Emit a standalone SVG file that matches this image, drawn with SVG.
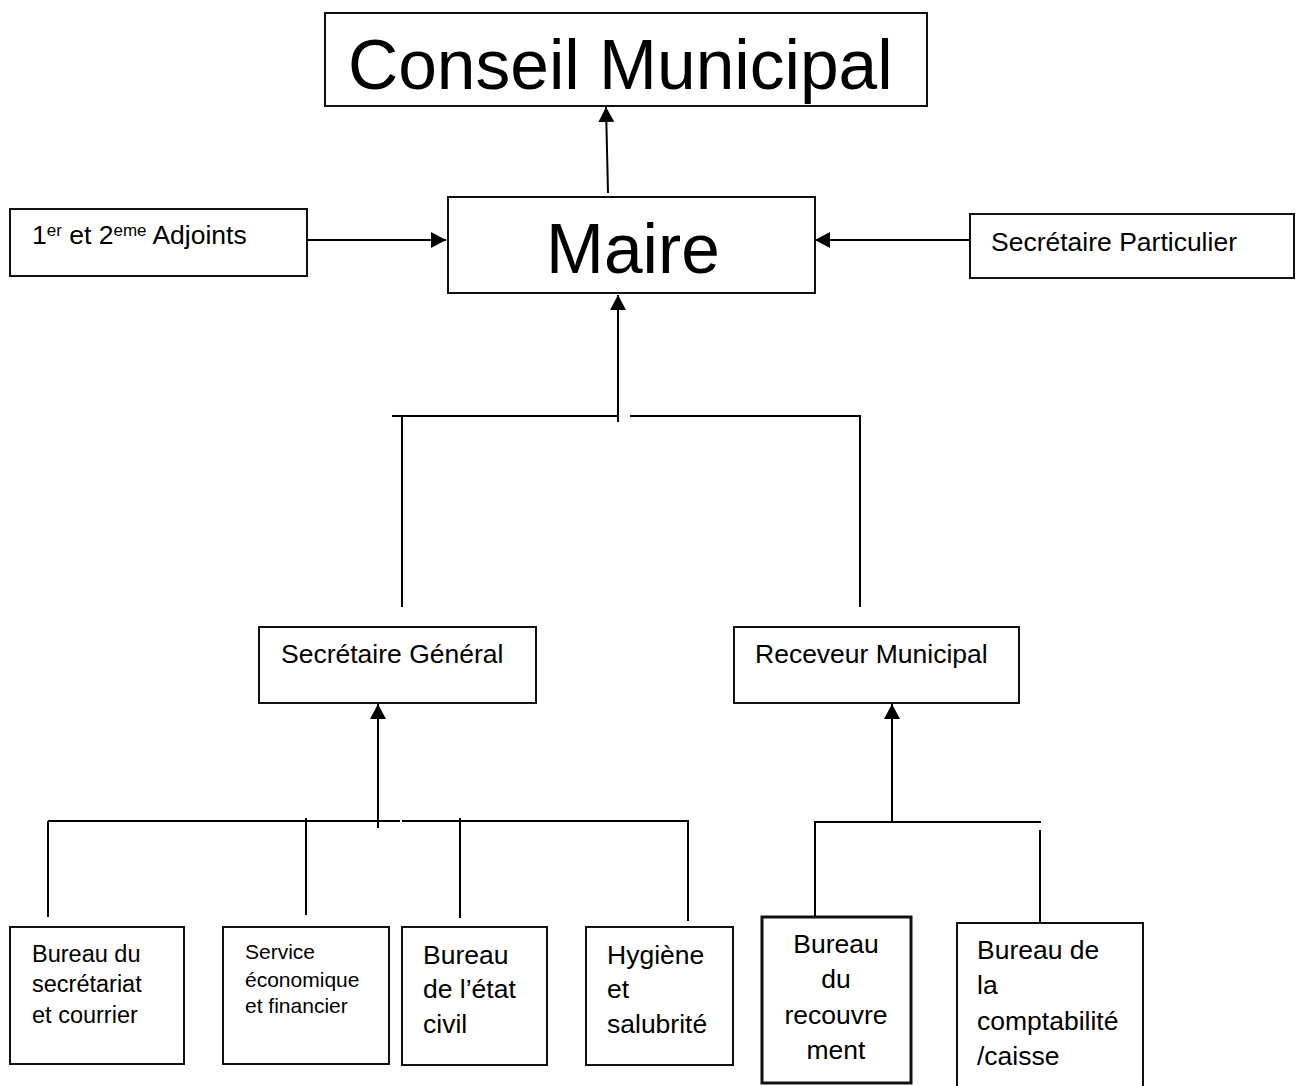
<svg xmlns="http://www.w3.org/2000/svg" width="1301" height="1086" viewBox="0 0 1301 1086">
<style>
.box{fill:#fff;stroke:#111;stroke-width:2}
.thick{stroke-width:3}
.ln{fill:none;stroke:#000;stroke-width:2}
text{font-family:"Liberation Sans",Arial,sans-serif;fill:#000}
.t26{font-size:26.5px}
.t23{font-size:23.5px}
.t21{font-size:21px}
.big{font-size:69.5px}
</style>
<defs>
<marker id="ah" viewBox="0 0 15 16" refX="15" refY="8" markerWidth="15" markerHeight="16" markerUnits="userSpaceOnUse" orient="auto">
<path d="M0,0 L15,8 L0,16 Z" fill="#000"/>
</marker>
</defs>
<rect width="1301" height="1086" fill="#fff"/>

<g id="connectors">
<line class="ln" x1="608" y1="193" x2="606" y2="107" marker-end="url(#ah)"/>
<line class="ln" x1="307" y1="240" x2="446" y2="240" marker-end="url(#ah)"/>
<line class="ln" x1="970" y1="240" x2="815" y2="240" marker-end="url(#ah)"/>
<line class="ln" x1="618" y1="422" x2="618" y2="295" marker-end="url(#ah)"/>
<line class="ln" x1="392" y1="416" x2="618" y2="416"/>
<polyline class="ln" points="630,416 860,416 860,607"/>
<line class="ln" x1="402" y1="416" x2="402" y2="607"/>
<line class="ln" x1="378" y1="828" x2="378" y2="704" marker-end="url(#ah)"/>
<line class="ln" x1="48" y1="821" x2="400" y2="821"/>
<polyline class="ln" points="402,821 688,821 688,921"/>
<line class="ln" x1="48" y1="821" x2="48" y2="917"/>
<line class="ln" x1="306" y1="818" x2="306" y2="915"/>
<line class="ln" x1="460" y1="818" x2="460" y2="918"/>
<line class="ln" x1="892" y1="822" x2="892" y2="704" marker-end="url(#ah)"/>
<polyline class="ln" points="815,917 815,822 1041,822"/>
<line class="ln" x1="1040" y1="830" x2="1040" y2="923"/>
</g>

<g id="conseil">
<rect class="box" x="325" y="13" width="602" height="93"/>
<text class="big" x="348" y="89">Conseil Municipal</text>
</g>
<g id="maire">
<rect class="box" x="448" y="197" width="367" height="96"/>
<text class="big" x="546" y="273">Maire</text>
</g>
<g id="adjoints">
<rect class="box" x="10" y="209" width="297" height="67"/>
<text class="t26" x="32" y="244">1<tspan font-size="17" dy="-8">er</tspan><tspan dy="8"> et 2</tspan><tspan font-size="17" dy="-8">eme</tspan><tspan dy="8"> Adjoints</tspan></text>
</g>
<g id="particulier">
<rect class="box" x="970" y="214" width="324" height="64"/>
<text class="t26" x="991" y="251">Secrétaire Particulier</text>
</g>
<g id="sg">
<rect class="box" x="259" y="627" width="277" height="76"/>
<text class="t26" x="281" y="663">Secrétaire Général</text>
</g>
<g id="rm">
<rect class="box" x="734" y="627" width="285" height="76"/>
<text class="t26" x="755" y="663">Receveur Municipal</text>
</g>
<g id="secretariat">
<rect class="box" x="10" y="927" width="174" height="137"/>
<text class="t23" x="32"><tspan x="32" y="962">Bureau du</tspan><tspan x="32" y="992">secrétariat</tspan><tspan x="32" y="1023">et courrier</tspan></text>
</g>
<g id="economique">
<rect class="box" x="223" y="927" width="166" height="137"/>
<text class="t21" x="245"><tspan x="245" y="959">Service</tspan><tspan x="245" y="987">économique</tspan><tspan x="245" y="1013">et financier</tspan></text>
</g>
<g id="etatcivil">
<rect class="box" x="402" y="927" width="145" height="138"/>
<text class="t26" x="423"><tspan x="423" y="964">Bureau</tspan><tspan x="423" y="998">de l’état</tspan><tspan x="423" y="1033">civil</tspan></text>
</g>
<g id="hygiene">
<rect class="box" x="586" y="927" width="147" height="138"/>
<text class="t26" x="607"><tspan x="607" y="964">Hygiène</tspan><tspan x="607" y="998">et</tspan><tspan x="607" y="1033">salubrité</tspan></text>
</g>
<g id="recouvrement">
<rect class="box thick" x="762" y="917" width="149" height="166"/>
<text class="t26" text-anchor="middle"><tspan x="836" y="953">Bureau</tspan><tspan x="836" y="988">du</tspan><tspan x="836" y="1024">recouvre</tspan><tspan x="836" y="1059">ment</tspan></text>
</g>
<g id="comptabilite">
<rect class="box" x="957" y="923" width="186" height="180"/>
<text class="t26"><tspan x="977" y="959">Bureau de</tspan><tspan x="977" y="994">la</tspan><tspan x="977" y="1030">comptabilité</tspan><tspan x="977" y="1065">/caisse</tspan></text>
</g>
</svg>
